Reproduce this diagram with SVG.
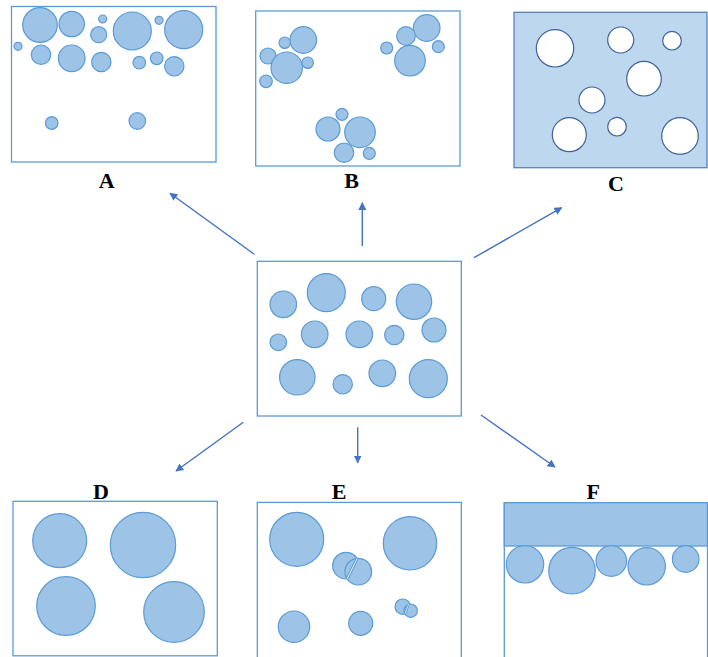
<svg xmlns="http://www.w3.org/2000/svg" width="708" height="657" viewBox="0 0 708 657">
<defs>
<marker id="ah" viewBox="0 0 10 10" refX="9" refY="5" markerWidth="8" markerHeight="8" markerUnits="userSpaceOnUse" orient="auto">
<path d="M0,0 L10,5 L0,10 z" fill="#4472C4"/>
</marker>
<style>
.box{fill:#fff;stroke:#5B9BD5;stroke-width:1.3}
.b{fill:#9DC3E6;stroke:#5B9BD5;stroke-width:1.2}
.h{fill:#fff;stroke:#41619C;stroke-width:1.2}
.lbl{font-family:"Liberation Serif",serif;font-weight:bold;font-size:22px;fill:#000;text-anchor:middle}
.arr{stroke:#4472C4;stroke-width:1.4;fill:none;marker-end:url(#ah)}
</style>
</defs>
<rect width="708" height="657" fill="#fff"/>

<g id="A">
<rect class="box" x="11.5" y="6.5" width="204.5" height="155.5"/>
<circle class="b" cx="40" cy="25" r="17.3"/>
<circle class="b" cx="71.7" cy="24" r="12.7"/>
<circle class="b" cx="102.7" cy="19" r="4"/>
<circle class="b" cx="98.7" cy="34.7" r="8"/>
<circle class="b" cx="132.3" cy="31" r="19"/>
<circle class="b" cx="159" cy="20.3" r="4"/>
<circle class="b" cx="183.7" cy="29.7" r="19"/>
<circle class="b" cx="18" cy="46.3" r="4"/>
<circle class="b" cx="41" cy="54.7" r="9.7"/>
<circle class="b" cx="71.7" cy="58.3" r="13.3"/>
<circle class="b" cx="101.3" cy="62" r="9.7"/>
<circle class="b" cx="139.3" cy="62.7" r="6.3"/>
<circle class="b" cx="156.7" cy="58.3" r="6.3"/>
<circle class="b" cx="174.3" cy="66.3" r="9.7"/>
<circle class="b" cx="51.7" cy="123" r="6.3"/>
<circle class="b" cx="137.3" cy="121" r="8.3"/>
<text class="lbl" x="106.7" y="187.5">A</text>
</g>

<g id="B">
<rect class="box" x="255.7" y="11" width="204.3" height="155"/>
<circle class="b" cx="303.3" cy="40" r="13.3"/>
<circle class="b" cx="284.7" cy="42.7" r="5.7"/>
<circle class="b" cx="268" cy="56" r="8"/>
<circle class="b" cx="286.7" cy="67.7" r="15.7"/>
<circle class="b" cx="307.7" cy="62.7" r="5.7"/>
<circle class="b" cx="266" cy="81.3" r="6.3"/>
<circle class="b" cx="426.7" cy="28" r="13.3"/>
<circle class="b" cx="406" cy="36" r="9.3"/>
<circle class="b" cx="386.7" cy="48" r="6"/>
<circle class="b" cx="438.3" cy="46.7" r="6"/>
<circle class="b" cx="410" cy="60.7" r="15.3"/>
<circle class="b" cx="342" cy="114.3" r="6"/>
<circle class="b" cx="328" cy="129" r="12"/>
<circle class="b" cx="360" cy="132.3" r="15.3"/>
<circle class="b" cx="344" cy="152.7" r="9.7"/>
<circle class="b" cx="369.3" cy="153.3" r="6"/>
<text class="lbl" x="351.7" y="188">B</text>
</g>

<g id="C">
<rect x="514" y="12.3" width="193" height="155.4" fill="#BDD7EE" stroke="#5A82B4" stroke-width="1.3"/>
<circle class="h" cx="555" cy="48.3" r="18.7"/>
<circle class="h" cx="620.7" cy="40" r="13"/>
<circle class="h" cx="672" cy="40.7" r="9.3"/>
<circle class="h" cx="644" cy="78.7" r="17.3"/>
<circle class="h" cx="592" cy="100" r="13"/>
<circle class="h" cx="569.3" cy="134.7" r="17"/>
<circle class="h" cx="617" cy="126.7" r="9.3"/>
<circle class="h" cx="680" cy="136" r="18.3"/>
<text class="lbl" x="616" y="191">C</text>
</g>

<g id="center">
<rect class="box" x="257.3" y="261.3" width="204" height="154.7"/>
<circle class="b" cx="283.3" cy="304.3" r="13.3"/>
<circle class="b" cx="326.3" cy="292.7" r="19"/>
<circle class="b" cx="373.7" cy="298.7" r="12"/>
<circle class="b" cx="414" cy="301.7" r="17.7"/>
<circle class="b" cx="278.3" cy="342.3" r="8.3"/>
<circle class="b" cx="314.7" cy="334.3" r="13.3"/>
<circle class="b" cx="359.3" cy="334.3" r="13.3"/>
<circle class="b" cx="394.3" cy="335" r="9.7"/>
<circle class="b" cx="434" cy="330" r="12"/>
<circle class="b" cx="297.3" cy="377.3" r="17.7"/>
<circle class="b" cx="342.7" cy="384.3" r="9.7"/>
<circle class="b" cx="382.3" cy="373.3" r="13.3"/>
<circle class="b" cx="428.3" cy="378.7" r="19"/>
</g>

<g id="D">
<rect class="box" x="13" y="501.3" width="204.3" height="154.5"/>
<circle class="b" cx="59.7" cy="540.7" r="27"/>
<circle class="b" cx="143" cy="545" r="32.7"/>
<circle class="b" cx="66" cy="606" r="29.3"/>
<circle class="b" cx="174" cy="612" r="30.3"/>
<text class="lbl" x="101" y="498.5">D</text>
</g>

<g id="E">
<path d="M257.3,657 V502.3 H461.3 V657" fill="none" stroke="#5B9BD5" stroke-width="1.3"/>
<circle class="b" cx="296.7" cy="539.3" r="27"/>
<circle class="b" cx="410" cy="543.3" r="26.7"/>
<circle class="b" cx="346" cy="565.7" r="13.3"/>
<circle class="b" cx="358.3" cy="571.7" r="13.3"/>
<line x1="357.15" y1="558.5" x2="347.15" y2="578.9" stroke="#5B9BD5" stroke-width="3"/>
<line x1="357.15" y1="558.5" x2="347.15" y2="578.9" stroke="#fff" stroke-width="0.9"/>
<circle class="b" cx="294" cy="626.7" r="15.7"/>
<circle class="b" cx="360.7" cy="623.3" r="12"/>
<circle class="b" cx="402.7" cy="606.7" r="7.7"/>
<circle class="b" cx="410.7" cy="610.7" r="6.7"/>
<line x1="408.6" y1="604.2" x2="404.9" y2="614" stroke="#5B9BD5" stroke-width="2.4"/>
<line x1="408.6" y1="604.2" x2="404.9" y2="614" stroke="#fff" stroke-width="0.7"/>
<text class="lbl" x="339" y="498.5">E</text>
</g>

<g id="F">
<path d="M504.3,657 V502.7 H707.5 V657" fill="none" stroke="#5B9BD5" stroke-width="1.3"/>
<rect x="504.3" y="502.7" width="203.2" height="43.3" fill="#9DC3E6" stroke="#5B9BD5" stroke-width="1.3"/>
<circle class="b" cx="525" cy="564.3" r="18.7"/>
<circle class="b" cx="572" cy="570.7" r="23.3"/>
<circle class="b" cx="611.3" cy="561" r="15.3"/>
<circle class="b" cx="646.7" cy="566.3" r="18.7"/>
<circle class="b" cx="685.7" cy="559" r="13.3"/>
<text class="lbl" x="593.3" y="498.5">F</text>
</g>

<g id="connectors">
<line class="arr" x1="254.3" y1="254.3" x2="170" y2="193.3"/>
<line class="arr" x1="362.3" y1="246" x2="362.3" y2="202.7"/>
<line class="arr" x1="474" y1="257.7" x2="561.7" y2="207.7"/>
<line class="arr" x1="243.3" y1="422.3" x2="176" y2="471"/>
<line class="arr" x1="357.7" y1="427.3" x2="357.7" y2="462.7"/>
<line class="arr" x1="481" y1="415" x2="555" y2="467"/>
</g>
</svg>
